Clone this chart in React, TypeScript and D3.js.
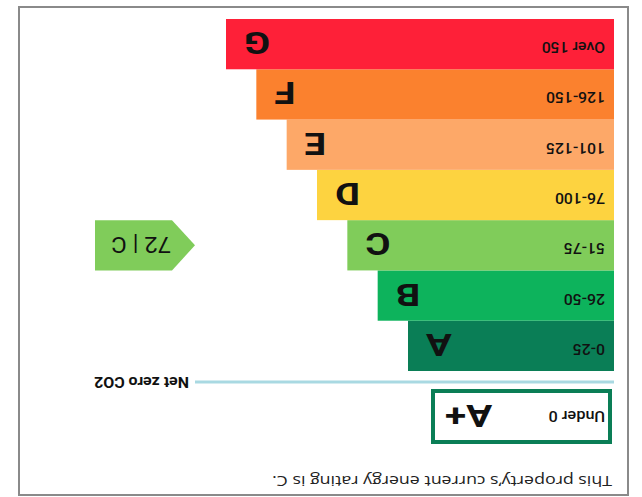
import React from 'react';
import * as d3 from 'd3';

// energy bands, best to worst
const grades = ['A', 'B', 'C', 'D', 'E', 'F', 'G'];
const ranges = ['0-25', '26-50', '51-75', '76-100', '101-125', '126-150', 'Over 150'];
const colors = ['#0a7e56', '#0db35c', '#80cc5a', '#fdd340', '#fda868', '#fb812e', '#fe2038'];

const plusGrade = 'A+';
const plusRange = 'Under 0';
const currentScore = 72;
const currentGrade = 'C';
const caption = 'This property’s current energy rating is C.';

const W = 642;
const H = 497;
const FONT = 'Roboto, "Liberation Sans", Arial, sans-serif';

// text in the source image is a little stretched sideways, hence sx
function T({ x, y, size, weight = 400, anchor = 'start', sx = 1.1, children }: any) {
  return (
    <text
      transform={`translate(${x},${y}) scale(${sx},1)`}
      fontSize={size}
      fontWeight={weight}
      textAnchor={anchor}
      fontFamily={FONT}
      fill="#111"
    >
      {children}
    </text>
  );
}

export default function App() {
  const x0 = 28;
  const y = d3.scaleBand().domain(grades).range([126, 478]);
  const w = d3.scaleLinear().domain([0, grades.length - 1]).range([206, 388]);

  const lineY = 115;
  const lineEnd = x0 + w(0) + 213;

  // arrow for current rating
  const cy = y(currentGrade)!;
  const bh = y.bandwidth();
  const ax = lineEnd;
  const arrow = d3.path();
  arrow.moveTo(ax, cy + bh / 2);
  arrow.lineTo(ax + 23, cy);
  arrow.lineTo(ax + 100, cy);
  arrow.lineTo(ax + 100, cy + bh);
  arrow.lineTo(ax + 23, cy + bh);
  arrow.closePath();

  return (
    <svg
      width={W}
      height={H}
      style={{ position: 'fixed', left: 0, top: 0, background: '#fff' }}
    >
      <g transform={`rotate(180 ${W / 2} ${H / 2})`}>
        <rect x={14} y={2} width={609} height={488} fill="#fff" stroke="#8a8a8a" strokeWidth={2} />

        <text
          x={30}
          y={21}
          fontSize={15}
          fontFamily='"Open Sans", Roboto, sans-serif'
          fill="#222"
          textLength={340}
          lengthAdjust="spacingAndGlyphs"
        >
          {caption}
        </text>

        <rect x={32} y={55} width={177} height={51} fill="#fff" stroke={colors[0]} strokeWidth={4} />
        <T x={37} y={86} size={15} weight={500} sx={1.08}>{plusRange}</T>
        <T x={197} y={92} size={31} weight={700} anchor="end" sx={1.25}>{plusGrade}</T>

        <line x1={x0} x2={lineEnd} y1={lineY} y2={lineY} stroke="#a9d9e2" strokeWidth={3} />
        <T x={453} y={120} size={14.5} weight={700}>Net zero CO2</T>

        {grades.map((g, i) => {
          const top = y(g)!;
          const len = w(i);
          return (
            <g key={g}>
              <rect x={x0} y={top} width={len} height={bh} fill={colors[i]} />
              <T x={x0 + 9} y={top + bh / 2 + 2} size={15} weight={500} sx={1.05}>{ranges[i]}</T>
              <T x={x0 + len - 18} y={top + bh / 2 + 12} size={32} weight={700} anchor="end" sx={1.2}>{g}</T>
            </g>
          );
        })}

        <path d={arrow.toString()} fill={colors[grades.indexOf(currentGrade)]} />
        <T x={ax + 24} y={cy + bh / 2 + 8} size={22} sx={1.08}>{`${currentScore} | ${currentGrade}`}</T>
      </g>
    </svg>
  );
}
